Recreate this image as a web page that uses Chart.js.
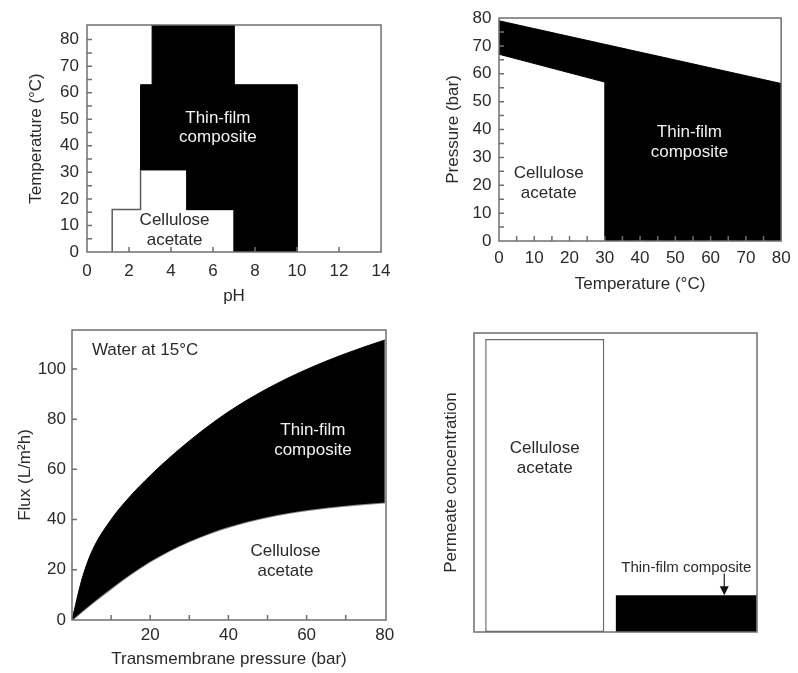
<!DOCTYPE html>
<html><head><meta charset="utf-8">
<script src="https://cdn.jsdelivr.net/npm/chart.js@4.4.1/dist/chart.umd.min.js"></script>
<style>
html,body{margin:0;padding:0;background:#fff;}
#wrap{position:relative;width:798px;height:673px;overflow:hidden;background:#fff;}
canvas{position:absolute;}
</style></head><body>
<div id="wrap">
<canvas id="c1" width="400" height="310" style="left:0;top:0"></canvas>
<canvas id="c2" width="398" height="310" style="left:400px;top:0"></canvas>
<canvas id="c3" width="400" height="363" style="left:0;top:310px"></canvas>
<canvas id="c4" width="398" height="363" style="left:400px;top:310px"></canvas>
</div>
<script>
// ---------- Panel 1: pH / temperature operating window ----------
const phTicks = [0, 2, 4, 6, 8, 10, 12, 14];
const tempTicks1 = [0, 10, 20, 30, 40, 50, 60, 70, 80];
const phMinorTicks = [2, 4, 6, 8, 10, 12];
const tempMinorTicks1 = [5, 10, 15, 20, 25, 30, 35, 40, 45, 50, 55, 60, 65, 70, 75, 80];
const tfcPhX = [2.55, 3.1, 3.1, 7.0, 7.0, 10.0, 10.0, 7.0, 7.0, 4.75, 4.75, 2.55, 2.55];
const tfcPhY = [63, 63, 85.5, 85.5, 63, 63, 0, 0, 16, 16, 31, 31, 63];
const caPhX = [1.2, 1.2, 2.55, 2.55, 4.75, 4.75, 7.0, 7.0];
const caPhY = [0, 16, 16, 31, 31, 16, 16, 0];

// ---------- Panel 2: temperature / pressure operating window ----------
const tempTicks2 = [0, 10, 20, 30, 40, 50, 60, 70, 80];
const pressTicks2 = [0, 10, 20, 30, 40, 50, 60, 70, 80];
const tempMinorTicks2 = [5, 10, 15, 20, 25, 30, 35, 40, 45, 50, 55, 60, 65, 70, 75];
const pressMinorTicks2 = [5, 10, 15, 20, 25, 30, 35, 40, 45, 50, 55, 60, 65, 70, 75];
const tfcTempX = [0, 80, 80, 30, 30, 0, 0];
const tfcTempY = [79, 56.5, 0, 0, 57, 67, 79];

// ---------- Panel 3: flux vs transmembrane pressure ----------
const tmpBar = [0, 2.5, 5, 10, 15, 20, 25, 30, 35, 40, 45, 50, 55, 60, 65, 70, 75, 80];
const fluxTFC = [0, 16, 27, 40, 49.5, 57.5, 64.7, 71.3, 77.4, 82.9, 87.8, 92.2, 96.2, 99.8, 103.1, 106.1, 108.9, 111.5];
const fluxCA = [0, 3.3, 6.5, 12.5, 18.2, 23.3, 27.6, 31.3, 34.4, 37, 39.2, 41, 42.5, 43.7, 44.7, 45.5, 46.2, 46.8];
const tmpTicks = [20, 40, 60, 80];
const fluxTicks = [0, 20, 40, 60, 80, 100];
const tmpMinorTicks = [10, 20, 30, 40, 50, 60, 70];
const fluxMinorTicks = [20, 40, 60, 80, 100];

// ---------- Panel 4: permeate concentration ----------
const permeateCats = ['Cellulose acetate', 'Thin-film composite'];
const permeateCA = [98, null];
const permeateTFC = [null, 12.3];

const FONT = '"Liberation Sans", Arial, Helvetica, sans-serif';
const TXT = '#2a2a2a';
const FRAME = '#6f6f6f';
Chart.defaults.font.family = FONT;
Chart.defaults.font.size = 17;
Chart.defaults.color = TXT;
Chart.defaults.animation = false;

const pts = (xs, ys) => xs.map((x, i) => ({x: x, y: ys[i]}));
const setTicks = arr => (s => { s.ticks = arr.map(v => ({value: v})); });

function decor(cfg) {
  return {
    id: 'decor',
    afterDatasetsDraw(chart) {
      const ctx = chart.ctx;
      const xs = chart.scales.x, ys = chart.scales.y;
      ctx.save();
      (cfg.labels || []).forEach(l => {
        ctx.font = (l.size || 17) + 'px ' + FONT;
        ctx.fillStyle = l.color || TXT;
        ctx.textAlign = l.align || 'center';
        ctx.textBaseline = 'middle';
        const px = xs.getPixelForValue(l.x);
        const py = ys.getPixelForValue(l.y);
        const gap = l.gap || 20;
        const n = l.lines.length;
        l.lines.forEach((t, i) => ctx.fillText(t, px, py + (i - (n - 1) / 2) * gap));
      });
      if (cfg.arrow) {
        const el = chart.getDatasetMeta(cfg.arrow.dataset).data[cfg.arrow.index];
        const ax = el.x + cfg.arrow.frac * el.width;
        const y0 = ys.getPixelForValue(cfg.arrow.from);
        const y1 = el.y;
        ctx.strokeStyle = '#222';
        ctx.lineWidth = 1.2;
        ctx.beginPath(); ctx.moveTo(ax, y0); ctx.lineTo(ax, y1 - 6); ctx.stroke();
        ctx.fillStyle = '#111';
        ctx.beginPath(); ctx.moveTo(ax - 4.5, y1 - 9); ctx.lineTo(ax + 4.5, y1 - 9); ctx.lineTo(ax, y1); ctx.closePath(); ctx.fill();
      }
      ctx.restore();
    },
    afterDraw(chart) {
      const ctx = chart.ctx, a = chart.chartArea;
      const xs = chart.scales.x, ys = chart.scales.y;
      ctx.save();
      ctx.strokeStyle = FRAME;
      ctx.lineWidth = 1.5;
      if (cfg.ticks) {
        ctx.beginPath();
        (cfg.ticks.x || []).forEach(v => { const p = xs.getPixelForValue(v); ctx.moveTo(p, a.bottom); ctx.lineTo(p, a.bottom - 5); });
        (cfg.ticks.y || []).forEach(v => { const p = ys.getPixelForValue(v); ctx.moveTo(a.left, p); ctx.lineTo(a.left + 5, p); });
        ctx.stroke();
      }
      ctx.strokeRect(a.left, a.top, a.right - a.left, a.bottom - a.top);
      ctx.restore();
    }
  };
}

function axis(o) {
  const sc = {
    type: 'linear', min: o.min, max: o.max,
    grid: {display: false, drawTicks: false, tickLength: 0},
    border: {display: false},
    ticks: {padding: o.pad, autoSkip: false, maxRotation: 0, display: o.labels !== undefined},
    title: {display: !!o.title, text: o.title || '', padding: o.tpad}
  };
  if (o.labels) sc.afterBuildTicks = setTicks(o.labels);
  if (o.w !== undefined) sc.afterFit = s => { s.width = o.w; };
  if (o.h !== undefined) sc.afterFit = s => { s.height = o.h; };
  return sc;
}
const base = (pad) => ({
  responsive: false, animation: false, events: [],
  layout: {padding: pad},
  plugins: {legend: {display: false}, tooltip: {enabled: false}}
});

// Panel 1
new Chart(document.getElementById('c1'), {
  type: 'line',
  data: {datasets: [
    {data: pts(tfcPhX, tfcPhY), fill: 'shape', backgroundColor: '#000', borderColor: '#000', borderWidth: 1, pointRadius: 0, tension: 0},
    {data: pts(caPhX, caPhY), fill: false, borderColor: '#5e5e5e', borderWidth: 1.5, pointRadius: 0, tension: 0}
  ]},
  options: Object.assign(base({top: 25, right: 14, left: 0, bottom: 0}), {
    scales: {
      x: axis({min: 0, max: 14, labels: phTicks, pad: 9.5, h: 58, title: 'pH', tpad: {top: 0, bottom: 3}}),
      y: axis({min: 0, max: 85.5, labels: tempTicks1, pad: 8, w: 87, title: 'Temperature (°C)', tpad: {top: 26, bottom: 0}})
    }
  }),
  plugins: [decor({
    ticks: {x: phMinorTicks, y: tempMinorTicks1},
    labels: [
      {lines: ['Thin-film', 'composite'], x: 6.23, y: 46.8, color: '#f2f2f2', gap: 19},
      {lines: ['Cellulose', 'acetate'], x: 4.17, y: 8.2}
    ]
  })]
});

// Panel 2
new Chart(document.getElementById('c2'), {
  type: 'line',
  data: {datasets: [
    {data: pts(tfcTempX, tfcTempY), fill: 'shape', backgroundColor: '#000', borderColor: '#000', borderWidth: 1, pointRadius: 0, tension: 0}
  ]},
  options: Object.assign(base({top: 18, right: 11, left: 0, bottom: 0}), {
    scales: {
      x: axis({min: 0, max: 80, labels: tempTicks2, pad: 7.4, h: 69, title: 'Temperature (°C)', tpad: {top: 0, bottom: 15}}),
      y: axis({min: 0, max: 80, labels: pressTicks2, pad: 7.6, w: 99, title: 'Pressure (bar)', tpad: {top: 43, bottom: 0}})
    }
  }),
  plugins: [decor({
    ticks: {x: tempMinorTicks2, y: pressMinorTicks2},
    labels: [
      {lines: ['Thin-film', 'composite'], x: 54, y: 35.3, color: '#f2f2f2'},
      {lines: ['Cellulose', 'acetate'], x: 14.1, y: 20.6}
    ]
  })]
});

// Panel 3
new Chart(document.getElementById('c3'), {
  type: 'line',
  data: {datasets: [
    {data: pts(tmpBar, fluxTFC), fill: '+1', backgroundColor: '#000', borderColor: '#000', borderWidth: 1, pointRadius: 0, cubicInterpolationMode: 'monotone'},
    {data: pts(tmpBar, fluxCA), fill: false, borderColor: '#8c8c8c', borderWidth: 2, pointRadius: 0, cubicInterpolationMode: 'monotone'}
  ]},
  options: Object.assign(base({top: 20, right: 14, left: 0, bottom: 0}), {
    scales: {
      x: axis({min: 0, max: 80.3, labels: tmpTicks, pad: 4.8, h: 53, title: 'Transmembrane pressure (bar)', tpad: {top: 0, bottom: 3}}),
      y: axis({min: 0, max: 115.5, labels: fluxTicks, pad: 6, w: 72, title: 'Flux (L/m²h)', tpad: {top: 15, bottom: 0}})
    }
  }),
  plugins: [decor({
    ticks: {x: tmpMinorTicks, y: fluxMinorTicks},
    labels: [
      {lines: ['Thin-film', 'composite'], x: 61.6, y: 71.7, color: '#f2f2f2'},
      {lines: ['Cellulose', 'acetate'], x: 54.6, y: 23.3},
      {lines: ['Water at 15°C'], x: 5.1, y: 107.6, align: 'left'}
    ]
  })]
});

// Panel 4
new Chart(document.getElementById('c4'), {
  type: 'bar',
  data: {labels: permeateCats, datasets: [
    {data: permeateCA, backgroundColor: '#fff', borderColor: '#6a6a6a', borderWidth: 1.5, borderSkipped: false, barPercentage: 0.842, categoryPercentage: 1, skipNull: true},
    {data: permeateTFC, backgroundColor: '#000', borderColor: '#000', borderWidth: 0, barPercentage: 0.995, categoryPercentage: 1, skipNull: true}
  ]},
  options: Object.assign(base({top: 23, right: 41, left: 0, bottom: 41}), {
    scales: {
      x: {display: false},
      y: {min: 0, max: 100, grid: {display: false, drawTicks: false}, border: {display: false},
          ticks: {display: false}, afterFit: s => { s.width = 74; },
          title: {display: true, text: 'Permeate concentration', padding: {top: 41.5, bottom: 0}}}
    }
  }),
  plugins: [decor({
    labels: [
      {lines: ['Cellulose', 'acetate'], x: 0, y: 58},
      {lines: ['Thin-film composite'], x: 1, y: 21.3, size: 15}
    ],
    arrow: {dataset: 1, index: 1, frac: 0.27, from: 19.6}
  })]
});
</script>
</body></html>
